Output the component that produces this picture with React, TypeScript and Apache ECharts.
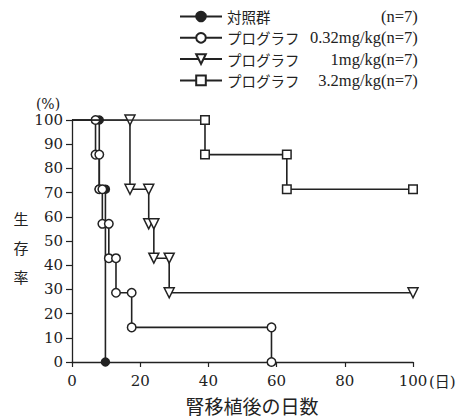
import React, { useEffect, useRef } from 'react';
import * as echarts from 'echarts';

// ---- data ----
const seriesNames = ['対照群', 'プログラフ0.32mg/kg', 'プログラフ 1mg/kg', 'プログラフ3.2mg/kg'];
const drugLabel = 'プログラフ';
const doseLabels = ['', '0.32mg/kg', '1mg/kg', '3.2mg/kg'];
const groupSizes = ['(n=7)', '(n=7)', '(n=7)', '(n=7)'];

// event days (drops) and survival (%) after each drop
const controlDays = [8.0, 9.8];
const controlSurvival = [71.4, 0];
const lowDoseDays = [6.9, 8.0, 8.9, 10.8, 12.9, 17.5, 58.5];
const lowDoseSurvival = [85.7, 71.4, 57.1, 42.9, 28.6, 14.3, 0];
const midDoseDays = [17.0, 22.5, 24.0, 28.5];
const midDoseSurvival = [71.4, 57.1, 42.9, 28.6];
const highDoseDays = [39.0, 63.0];
const highDoseSurvival = [85.7, 71.4];
// last observation day (censoring) for each group, null if none
const followUpEnd: (number | null)[] = [null, null, 100, 100];

const xMin = 0, xMax = 100, xStep = 20;
const yMin = 0, yMax = 100, yStep = 10;

const SERIF = "'DejaVu Serif', 'Noto Sans CJK JP', serif";
const LSERIF = "'Liberation Serif', 'Noto Sans CJK JP', serif";
const CJK = "'Noto Sans CJK JP', sans-serif";
const INK = '#222';

function buildSteps(days: number[], surv: number[], end: number | null) {
  const pts: any[] = [{ value: [0, 100], symbol: 'none' }];
  let prev = 100;
  days.forEach((d, i) => {
    pts.push([d, prev]);
    pts.push([d, surv[i]]);
    prev = surv[i];
  });
  if (end != null) pts.push([end, prev]);
  return pts;
}

export default function App() {
  const ref = useRef<HTMLDivElement>(null);
  useEffect(() => {
    if (!ref.current) return;
    const chart = echarts.init(ref.current, null, { renderer: 'svg' });
    const stepData = [
      buildSteps(controlDays, controlSurvival, followUpEnd[0]),
      buildSteps(lowDoseDays, lowDoseSurvival, followUpEnd[1]),
      buildSteps(midDoseDays, midDoseSurvival, followUpEnd[2]),
      buildSteps(highDoseDays, highDoseSurvival, followUpEnd[3]),
    ];
    const symbols = ['circle', 'circle', 'triangle', 'rect'];
    const sizes = [8, 8.5, 10, 8.5];
    const rotates = [0, 0, 180, 0];
    const fills = [INK, '#fff', '#fff', '#fff'];

    const series = seriesNames.map((name, i) => ({
      name,
      type: 'line',
      data: stepData[i],
      symbol: symbols[i],
      symbolSize: sizes[i],
      symbolRotate: rotates[i],
      showAllSymbol: true,
      lineStyle: { color: INK, width: 1.6 },
      itemStyle: { color: fills[i], borderColor: INK, borderWidth: 1.5, opacity: 1 },
      emphasis: { disabled: true },
      z: 2 + i,
    }));

    chart.setOption({
      animation: false,
      backgroundColor: '#fff',
      grid: { left: 72, right: 46, top: 120, bottom: 57, containLabel: false },
      legend: {
        orient: 'vertical',
        left: 174,
        top: 3,
        itemWidth: 42,
        itemHeight: 12,
        itemGap: 4.3,
        selectedMode: false,
        data: seriesNames,
        formatter: (name: string) => {
          const i = seriesNames.indexOf(name);
          if (i === 0) return `{a|${name}}{n|${groupSizes[i]}}`;
          return `{p|${drugLabel}}{d|${doseLabels[i]}}{n|${groupSizes[i]}}`;
        },
        textStyle: {
          color: INK,
          fontFamily: LSERIF,
          fontSize: 16.5,
          lineHeight: 17,
          rich: {
            a: { fontFamily: CJK, fontSize: 14.5, width: 154, lineHeight: 17, color: INK },
            p: { fontFamily: CJK, fontSize: 14.5, width: 79, lineHeight: 17, color: INK },
            d: { fontFamily: LSERIF, fontSize: 16.5, width: 75, align: 'right', lineHeight: 17, color: INK },
            n: { fontFamily: LSERIF, fontSize: 16.5, align: 'right', lineHeight: 17, color: INK },
          },
        },
      },
      xAxis: {
        type: 'value',
        min: xMin,
        max: xMax,
        interval: xStep,
        axisLine: { show: true, lineStyle: { color: INK, width: 1.3 } },
        axisTick: { show: true, inside: false, length: 5, lineStyle: { color: INK, width: 1.2 } },
        splitLine: { show: false },
        axisLabel: { color: '#222', fontFamily: SERIF, fontSize: 15, margin: 11 },
      },
      yAxis: {
        type: 'value',
        min: yMin,
        max: yMax,
        interval: yStep,
        axisLine: { show: true, lineStyle: { color: INK, width: 1.3 } },
        axisTick: { show: true, inside: false, length: 6, lineStyle: { color: INK, width: 1.2 } },
        splitLine: { show: false },
        axisLabel: { color: '#222', fontFamily: SERIF, fontSize: 15, margin: 9 },
      },
      graphic: [
        {
          type: 'text', x: 48, y: 104,
          style: { text: '(%)', fill: '#222', font: `14px ${SERIF}`, textAlign: 'center', textVerticalAlign: 'middle' },
        },
        {
          type: 'text', x: 429, y: 382,
          style: { text: '(日)', fill: '#222', font: `15px ${SERIF}`, textAlign: 'left', textVerticalAlign: 'middle' },
        },
        {
          type: 'text', x: 21, y: 247,
          style: { text: '生\n存\n率', fill: '#222', font: `15px ${CJK}`, lineHeight: 29, textAlign: 'center', textVerticalAlign: 'middle' },
        },
        {
          type: 'text', x: 252, y: 405,
          style: { text: '腎移植後の日数', fill: '#222', font: `19px ${CJK}`, textAlign: 'center', textVerticalAlign: 'middle' },
        },
      ],
      series,
    });
    return () => chart.dispose();
  }, []);
  return (
    <div
      ref={ref}
      style={{ position: 'fixed', left: 0, top: 0, width: 459, height: 419, background: '#fff' }}
    />
  );
}
